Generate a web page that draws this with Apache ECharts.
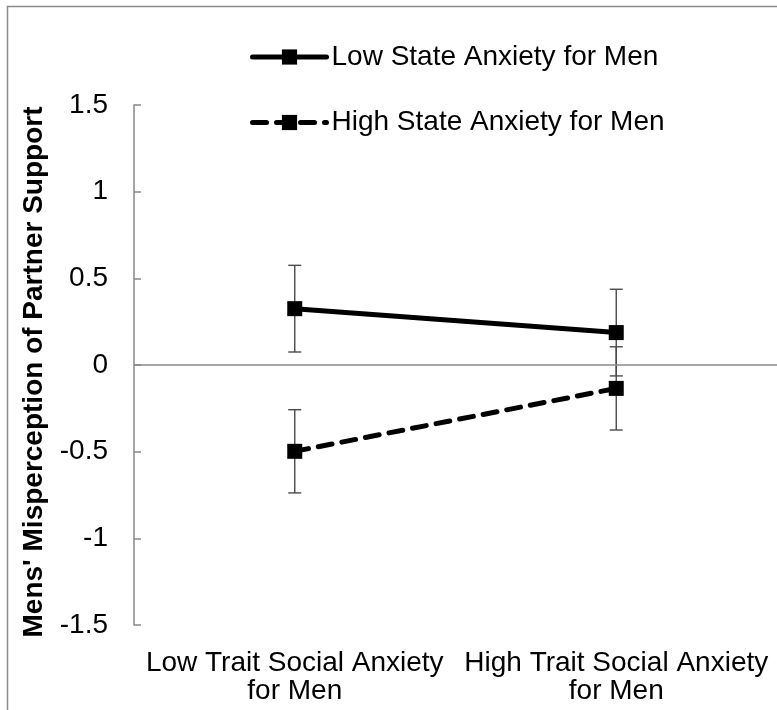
<!DOCTYPE html>
<html>
<head>
<meta charset="utf-8">
<script src="https://cdn.jsdelivr.net/npm/echarts@6/dist/echarts.min.js"></script>
<style>
html,body{margin:0;padding:0;background:#fff;}
#chart{width:777px;height:710px;}
</style>
</head>
<body>
<div id="chart"></div>
<script>
var categories = ['Low Trait Social Anxiety\nfor Men', 'High Trait Social Anxiety\nfor Men'];
var seriesNames = ['Low State Anxiety for Men', 'High State Anxiety for Men'];
var lowStateMeans = [0.325, 0.187];
var lowStateErr = [0.25, 0.25];
var highStateMeans = [-0.498, -0.135];
var highStateErr = [0.24, 0.24];
var yTicks = [-1.5, -1, -0.5, 0, 0.5, 1, 1.5];
var yTitle = "Mens' Misperception of Partner Support";

var FONT = '"Liberation Sans", Arial, Helvetica, sans-serif';

function errData(means, errs) {
  return means.map(function (m, i) { return [i, m - errs[i], m + errs[i]]; });
}
var errorBars = errData(lowStateMeans, lowStateErr).concat(errData(highStateMeans, highStateErr));

var chart = echarts.init(document.getElementById('chart'), null, {renderer: 'canvas'});
chart.setOption({
  animation: false,
  backgroundColor: '#fff',
  graphic: [{
    type: 'rect', silent: true, z: -10,
    shape: {x: 7.5, y: 6.5, width: 900, height: 900},
    style: {fill: 'none', stroke: '#8a8a8a', lineWidth: 1.5}
  }],
  legend: {
    orient: 'vertical',
    left: 250, top: 42, padding: 0,
    itemWidth: 74, itemHeight: 19, itemGap: 35.5,
    data: seriesNames,
    lineStyle: {width: 5, cap: 'round'},
    textStyle: {fontSize: 28, fontFamily: FONT, color: '#000', lineHeight: 30}
  },
  grid: {left: 134, right: -10, top: 105, bottom: 85, containLabel: false},
  xAxis: {
    type: 'category',
    data: categories,
    boundaryGap: true,
    axisLine: {show: false, onZero: false},
    axisTick: {show: false},
    splitLine: {show: false},
    axisLabel: {
      margin: 24, fontSize: 28, lineHeight: 28, fontFamily: FONT, color: '#000',
      interval: 0, align: 'center'
    }
  },
  yAxis: {
    type: 'value',
    min: yTicks[0], max: yTicks[yTicks.length - 1], interval: 0.5,
    name: yTitle,
    nameLocation: 'middle',
    nameGap: 86,
    nameTextStyle: {fontSize: 28, fontWeight: 'bold', fontFamily: FONT, color: '#000', padding: [0, 14, 0, 0]},
    axisLine: {show: true, lineStyle: {color: '#888888', width: 1.5}},
    axisTick: {show: true, inside: true, length: 7, lineStyle: {color: '#888888', width: 1.5}},
    splitLine: {show: false},
    axisLabel: {
      margin: 26, fontSize: 28, fontFamily: FONT, color: '#000',
      formatter: function (v) { return String(Math.round(v * 10) / 10); }
    }
  },
  series: [
    {
      type: 'custom',
      name: 'errors',
      z: 1,
      silent: true,
      data: errorBars,
      renderItem: function (params, api) {
        var x = api.value(0);
        var lo = api.coord([x, api.value(1)]);
        var hi = api.coord([x, api.value(2)]);
        var w = 6.5;
        var st = {stroke: '#4a4a4a', lineWidth: 1.4, fill: 'none'};
        return {
          type: 'group',
          children: [
            {type: 'line', shape: {x1: lo[0], y1: lo[1], x2: hi[0], y2: hi[1]}, style: st},
            {type: 'line', shape: {x1: lo[0] - w, y1: lo[1], x2: lo[0] + w, y2: lo[1]}, style: st},
            {type: 'line', shape: {x1: hi[0] - w, y1: hi[1], x2: hi[0] + w, y2: hi[1]}, style: st}
          ]
        };
      },
      markLine: {
        silent: true, symbol: 'none', animation: false,
        label: {show: false},
        lineStyle: {color: '#888888', width: 1.5, type: 'solid'},
        data: [{yAxis: 0}]
      }
    },
    {
      type: 'line',
      name: seriesNames[0],
      z: 3,
      data: lowStateMeans,
      symbol: 'rect', symbolSize: 15,
      itemStyle: {color: '#000'},
      lineStyle: {color: '#000', width: 5, type: 'solid', cap: 'round'}
    },
    {
      type: 'line',
      name: seriesNames[1],
      z: 3,
      data: highStateMeans,
      symbol: 'rect', symbolSize: 15,
      itemStyle: {color: '#000'},
      lineStyle: {color: '#000', width: 5, type: [14, 10], cap: 'round'}
    }
  ]
});
</script>
</body>
</html>
